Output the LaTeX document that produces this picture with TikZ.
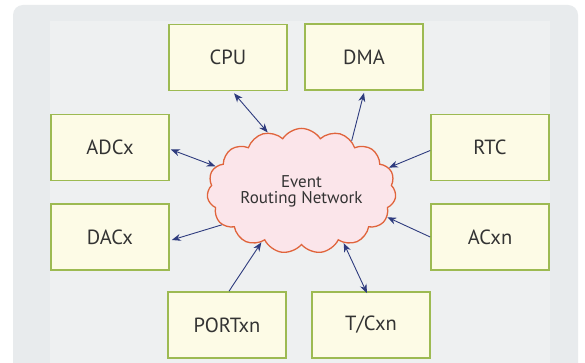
\documentclass[tikz,border=0pt]{standalone}
\usepackage{fontspec}
\setmainfont{PT Sans}
\usetikzlibrary{shapes.symbols,arrows.meta}
\definecolor{outerbg}{HTML}{E8EBED}
\definecolor{innerbg}{HTML}{EEF0F1}
\definecolor{boxfill}{HTML}{FDFBE6}
\definecolor{boxline}{HTML}{9DBA52}
\definecolor{cloudfill}{HTML}{FBE5EA}
\definecolor{cloudline}{HTML}{E0643C}
\definecolor{arrowcol}{HTML}{2E3B7E}
\definecolor{txt}{HTML}{333333}
\tikzset{
  unitbox/.style={draw=boxline, line width=1.6pt, fill=boxfill, minimum width=118pt, minimum height=66pt, inner sep=0pt, text=txt, font=\fontsize{20.5}{24}\selectfont},
  conn/.style={draw=arrowcol, line width=0.9pt},
  tip/.tip={Stealth[length=9pt,width=7pt]}
}
\begin{document}
\begin{tikzpicture}[x=1pt,y=-1pt]
\useasboundingbox (0,0) rectangle (585,363);
\fill[white] (0,0) rectangle (585,363);
\fill[outerbg, rounded corners=10pt] (13,5) rectangle (578,380);
\fill[innerbg] (50,21) rectangle (550,363);
% boxes
\node[unitbox] (cpu) at (228,57.5) {CPU};
\node[unitbox] (dma) at (364,57) {DMA};
\node[unitbox] (adcx) at (110,147.5) {ADCx};
\node[unitbox] (rtc) at (490,147.5) {RTC};
\node[unitbox] (dacx) at (110,237) {DACx};
\node[unitbox] (acxn) at (490,237) {ACxn};
\node[unitbox] (portxn) at (227,325) {PORTxn};
\node[unitbox] (tcxn) at (371,325) {T/Cxn};
% cloud
\node[cloud, cloud puffs=15, cloud puff arc=115, draw=cloudline, line width=1.3pt, fill=cloudfill,
      minimum width=189pt, minimum height=118pt, inner sep=0pt, aspect=1.6,
      text=txt, align=center, font=\fontsize{17}{17}\selectfont] (cloud) at (301.5,191) {Event\\[-1pt]Routing Network};
% connectors
\draw[conn, {tip}-{tip}] ([xshift=6pt,yshift=-2pt]cpu.south) -- (cloud.120);
\draw[conn, -{tip}] (cloud.45) -- ([yshift=-2pt]dma.south);
\draw[conn, {tip}-{tip}] ([xshift=1pt,yshift=-2pt]adcx.east) -- (cloud.164);
\draw[conn, -{tip}] ([yshift=-3pt]rtc.west) -- (cloud.15);
\draw[conn, -{tip}] (cloud.203) -- ([xshift=2pt,yshift=-3pt]dacx.east);
\draw[conn, -{tip}] (acxn.west) -- (cloud.343);
\draw[conn, -{tip}] ([xshift=2pt]portxn.north) -- (cloud.232);
\draw[conn, {tip}-{tip}] (cloud.309) -- ([xshift=-4pt,yshift=-2pt]tcxn.north);
\end{tikzpicture}
\end{document}
